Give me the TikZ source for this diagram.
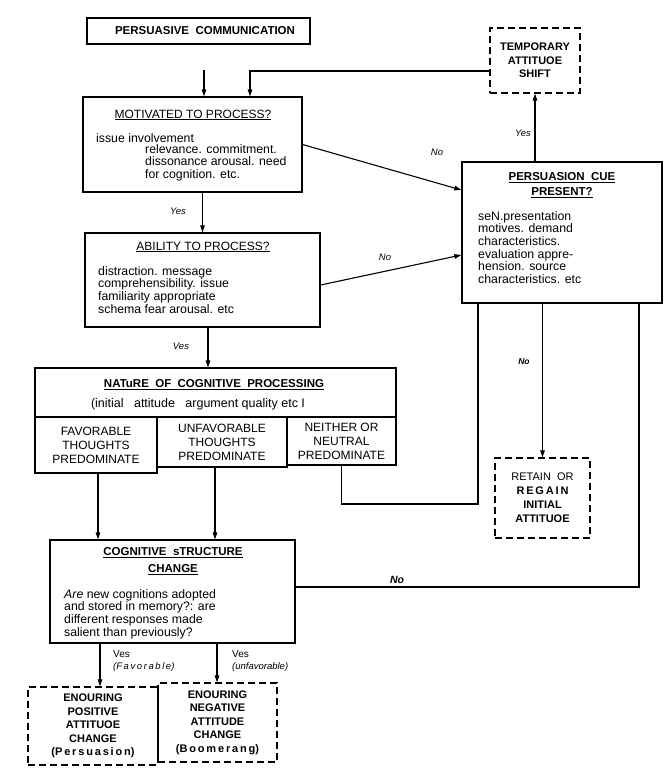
\documentclass[tikz,border=0pt]{standalone}
\usepackage{fontspec}
\setmainfont{Liberation Sans}
\usetikzlibrary{arrows.meta}
\tikzset{
  box/.style={draw, line width=1.2pt, inner sep=0pt},
  dbox/.style={draw, line width=1.2pt, dash pattern=on 7pt off 4pt, inner sep=0pt},
  flow/.style={line width=1.1pt, -{Triangle[length=7pt,width=4.5pt]}},
  link/.style={line width=1.1pt},
  ttl/.style={font=\fontsize{12}{13}\selectfont, inner sep=0pt},
  btl/.style={font=\bfseries\fontsize{11.5}{13}\selectfont, inner sep=0pt},
  body/.style={font=\fontsize{12.3}{12.7}\selectfont, align=left, anchor=north west, inner sep=0pt},
  caps/.style={font=\fontsize{12}{14}\selectfont, align=center, inner sep=0pt},
  bld/.style={font=\bfseries\fontsize{11}{13.5}\selectfont, align=center},
  lbl/.style={font=\itshape\fontsize{9.5}{11}\selectfont, inner sep=0pt},
}
\begin{document}
\begin{tikzpicture}[x=1pt,y=1pt,yscale=-1,xscale=1]
\useasboundingbox (0,0) rectangle (670,776);

%Shape: Rectangle [comm]
\draw (198.5,31) node[box, minimum width=223pt, minimum height=26pt] (comm) {};
% Text Node
\draw (205,31) node[btl] (commtxt) {PERSUASIVE\ \ COMMUNICATION};

%Shape: Dashed Rectangle [temp]
\draw (535,60.5) node[dbox, bld, minimum width=90pt, minimum height=65pt] (temp) {TEMPORARY\\ATTITUOE\\SHIFT};

%Shape: Rectangle [motiv]
\draw (192.5,144.5) node[box, minimum width=219pt, minimum height=95pt] (motiv) {};
% Text Node
\draw (193,115) node[ttl] (motivttl) {\underline{MOTIVATED TO PROCESS?}};
\draw (96,138) node[body, anchor=west] (motivtxt) {issue involvement};
\draw (145,144) node[body] (motivlist) {relevance. commitment.\\dissonance arousal. need\\for cognition. etc.};

%Shape: Rectangle [abil]
\draw (202.5,280) node[box, minimum width=235pt, minimum height=94pt] (abil) {};
% Text Node
\draw (203,247) node[ttl] (abilttl) {\underline{ABILITY TO PROCESS?}};
\draw (98,266) node[body] (abillist) {distraction. message\\comprehensibility. issue\\familiarity appropriate\\schema fear arousal. etc};

%Shape: Rectangle [cue]
\draw (562,232.5) node[box, minimum width=200pt, minimum height=141pt] (cue) {};
% Text Node
\draw (562,178) node[btl] (cuettl) {\underline{PERSUASION\ \ CUE}};
\draw (562,193) node[btl] (cuettlb) {\underline{PRESENT?}};
\draw (478,211) node[body] (cuelist) {seN.presentation\\motives. demand\\characteristics.\\evaluation appre-\\hension. source\\characteristics. etc};

%Shape: Rectangle [nature]
\draw (215.5,392.5) node[box, minimum width=361pt, minimum height=49pt] (nature) {};
% Text Node
\draw (214,385) node[btl] (naturettl) {\underline{NATuRE\ \ OF\ \ COGNITIVE\ \ PROCESSING}};
\draw (198,404) node[ttl, font=\fontsize{12.5}{13}\selectfont] (naturesub) {(initial\ \ \ attitude\ \ \ argument\ quality\ etc\ I};

%Shape: Rectangle [fav] [unfav] [neither]
\draw (96,445) node[box, caps, minimum width=122pt, minimum height=56pt] (fav) {FAVORABLE\\THOUGHTS\\PREDOMINATE};
\draw (222,442) node[box, caps, minimum width=130pt, minimum height=50pt] (unfav) {UNFAVORABLE\\THOUGHTS\\PREDOMINATE};
\draw (341.5,441) node[box, caps, minimum width=109pt, minimum height=48pt] (neither) {NEITHER OR\\NEUTRAL\\PREDOMINATE};

%Shape: Rectangle [cog]
\draw (172.5,591.5) node[box, minimum width=245pt, minimum height=103pt] (cog) {};
% Text Node
\draw (173,553) node[btl] (cogttl) {\underline{COGNITIVE\ \ sTRUCTURE}};
\draw (173,570) node[btl] (cogttlb) {\underline{CHANGE}};
\draw (64,589) node[body] (coglist) {\textit{Are} new cognitions adopted\\and stored in memory?: are\\different responses made\\salient than previously?};

%Shape: Dashed Rectangle [retain]
\draw (542.5,498) node[dbox, minimum width=95pt, minimum height=80pt, font=\fontsize{11}{14}\selectfont, align=center] (retain) {RETAIN\ \ OR\\\textbf{R\,E\,G\,A\,I\,N}\\\textbf{INITIAL}\\\textbf{ATTITUOE}};

%Shape: Dashed Rectangle [pos] [neg]
\draw (93,726) node[dbox, bld, minimum width=130pt, minimum height=78pt] (pos) {ENOURING\\POSITIVE\\ATTITUOE\\CHANGE\\(P\,e\,r\,s\,u\,a\,s\,i\,o\,n)};
\draw (217.5,722.5) node[dbox, bld, minimum width=119pt, minimum height=79pt] (neg) {ENOURING\\NEGATIVE\\ATTITUDE\\CHANGE\\(B\,o\,o\,m\,e\,r\,a\,n\,g)};

%Straight Lines
\coordinate (cin) at (204,70);
\draw[flow] (cin) -- (cin |- motiv.north);
\coordinate (tbend) at (250,71);
\draw[flow] (temp.west |- tbend) -- (tbend) -- (tbend |- motiv.north);
\draw[flow] (motiv.south -| abil.north) -- (abil.north);
\draw[flow] (motiv.east) -- (cue.west |- 0,190);
\draw[flow] (abil.east |- 0,285) -- (cue.west |- 0,255);
\draw[flow] (abil.south -| 208,0) -- (nature.north -| 208,0);
\draw[flow] (cue.north -| temp.south) -- (temp.south);
\draw[flow] (cue.south -| retain.north) -- (retain.north);
\coordinate (nbend) at (478,504);
\draw[link] (neither.south) |- (nbend) -- (nbend |- cue.south);
\coordinate (cbend) at (639,587);
\draw[link] (cog.east |- cbend) -- (cbend) -- (cbend |- cue.south);
\draw[flow] (fav.south -| 98,0) -- (cog.north -| 98,0);
\draw[flow] (unfav.south -| 215,0) -- (cog.north -| 215,0);
\draw[flow] (cog.south -| 100,0) -- (pos.north -| 100,0);
\draw[flow] (cog.south -| 217,0) -- (neg.north -| 217,0);

% Text Node
\draw (178,211) node[lbl] (yes1) {Yes};
% Text Node
\draw (437,152) node[lbl] (no1) {No};
% Text Node
\draw (385,257) node[lbl] (no2) {No};
% Text Node
\draw (181,346) node[lbl] (yes2) {Ves};
% Text Node
\draw (523,133) node[lbl] (yes3) {Yes};
% Text Node
\draw (524,362) node[lbl, font=\bfseries\itshape\fontsize{8.5}{10}\selectfont] (no3) {No};
% Text Node
\draw (397,580) node[lbl, font=\bfseries\itshape\fontsize{10.5}{12}\selectfont] (no4) {No};
% Text Node
\draw (113,654) node[lbl, anchor=west, font=\fontsize{10}{11}\selectfont] (yes4) {Ves};
\draw (113,667) node[lbl, anchor=west] (fav4) {(F\,a\,v\,o\,r\,a\,b\,l\,e)};
% Text Node
\draw (232,654) node[lbl, anchor=west, font=\fontsize{10}{11}\selectfont] (yes5) {Ves};
\draw (232,667) node[lbl, anchor=west] (unfav5) {(unfavorable)};

\end{tikzpicture}
\end{document}
